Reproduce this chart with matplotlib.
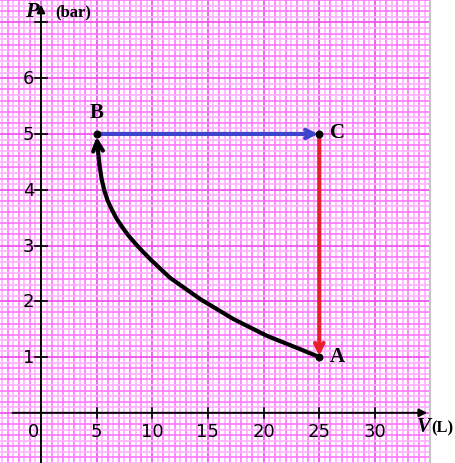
import numpy as np
import matplotlib.pyplot as plt

# curve B -> A
curve_v = [5.0, 5.1, 5.25, 5.45, 5.7, 6.0, 6.35, 6.8, 7.3, 7.85, 8.5, 9.2, 10.0,
           11.6, 14.3, 17.3, 20.3, 23.3, 25.0]
curve_p = [5.0, 4.72, 4.45, 4.19, 3.98, 3.80, 3.65, 3.48, 3.33, 3.18, 3.03, 2.88, 2.72,
           2.42, 2.04, 1.68, 1.38, 1.14, 1.0]

point_names = ["A", "B", "C"]
point_v = [25, 5, 25]
point_p = [1, 5, 5]

x_ticks = [5, 10, 15, 20, 25, 30]
y_ticks = [1, 2, 3, 4, 5, 6]

fig = plt.figure(figsize=(4.56, 4.64), dpi=100)
ax = fig.add_axes([0, 0, 430 / 456, 1])
ax.set_xlim(-3.68, 34.95)
ax.set_ylim(-0.90, 7.42)
ax.set_xticks([])
ax.set_yticks([])
for s in ["top", "left", "bottom"]:
    ax.spines[s].set_visible(False)
ax.spines["right"].set_color("#c4c4c4")
ax.spines["right"].set_linewidth(1.5)

# graph paper
for i in range(-8, 71):
    xv = i * 0.5
    if i % 10 == 0:
        c, w = "#f055f0", 1.3
    elif i % 2 == 0:
        c, w = "#ff77ff", 1.2
    else:
        c, w = "#ffb0ff", 1.2
    ax.axvline(xv, color=c, lw=w, zorder=0)
for j in range(-9, 75):
    yv = j * 0.1
    if j % 10 == 0:
        c, w = "#f055f0", 1.3
    elif j % 2 == 0:
        c, w = "#ff77ff", 1.2
    else:
        c, w = "#ffb0ff", 1.2
    ax.axhline(yv, color=c, lw=w, zorder=0)

# axes with arrows
ax.annotate("", xy=(34.95, 0), xytext=(-2.8, 0),
            arrowprops=dict(arrowstyle="-|>", color="black", lw=1.4,
                            mutation_scale=12), annotation_clip=False)
ax.annotate("", xy=(0, 7.37), xytext=(0, -0.95),
            arrowprops=dict(arrowstyle="-|>", color="black", lw=1.4,
                            mutation_scale=12), annotation_clip=False)

for t in x_ticks:
    ax.plot([t, t], [-0.09, 0.09], color="black", lw=1.2)
    ax.text(t, -0.33, str(t), ha="center", va="center", fontsize=13)
ax.text(-0.7, -0.33, "0", ha="center", va="center", fontsize=13)
for t in y_ticks + [7]:
    ax.plot([-0.55, 0.55], [t, t], color="black", lw=1.2)
for t in y_ticks:
    ax.text(-0.6, t, str(t), ha="right", va="center", fontsize=13)

# process lines
ax.plot(curve_v[2:], curve_p[2:], color="black", lw=3, solid_capstyle="round",
        solid_joinstyle="round", zorder=3)
ax.annotate("", xy=(curve_v[0], curve_p[0] - 0.05), xytext=(curve_v[2], curve_p[2]),
            arrowprops=dict(arrowstyle="->,head_length=0.7,head_width=0.35",
                            color="black", lw=3, shrinkA=0, shrinkB=0), zorder=3)
ax.annotate("", xy=(point_v[2] - 0.1, point_p[2]), xytext=(point_v[1], point_p[1]),
            arrowprops=dict(arrowstyle="->,head_length=0.6,head_width=0.3",
                            color="#3f44cc", lw=3, shrinkA=0, shrinkB=0), zorder=3)
ax.annotate("", xy=(point_v[0], point_p[0] + 0.02), xytext=(point_v[2], point_p[2]),
            arrowprops=dict(arrowstyle="->,head_length=0.6,head_width=0.3",
                            color="#ea1f2c", lw=3, shrinkA=0, shrinkB=0), zorder=3)
ax.scatter(point_v, point_p, s=22, color="black", zorder=4)

serif = "Liberation Serif"
ax.text(5.0, 5.39, "B", fontsize=15, fontweight="bold", family=serif, ha="center", va="center")
ax.text(26.6, 5.04, "C", fontsize=15, fontweight="bold", family=serif, ha="center", va="center")
ax.text(26.6, 1.02, "A", fontsize=15, fontweight="bold", family=serif, ha="center", va="center")

ax.text(-0.8, 7.2, "P", fontsize=16, fontweight="bold", style="italic", family=serif,
        ha="center", va="center")
ax.text(2.92, 7.19, "(bar)", fontsize=12, fontweight="bold", family=serif,
        ha="center", va="center")
ax.text(34.4, -0.24, "V", fontsize=15, fontweight="bold", style="italic", family=serif,
        ha="center", va="center", clip_on=False)
ax.text(35.1, -0.26, "(L)", fontsize=12, fontweight="bold", family=serif,
        ha="left", va="center", clip_on=False)

fig.savefig("out.png", dpi=100)
